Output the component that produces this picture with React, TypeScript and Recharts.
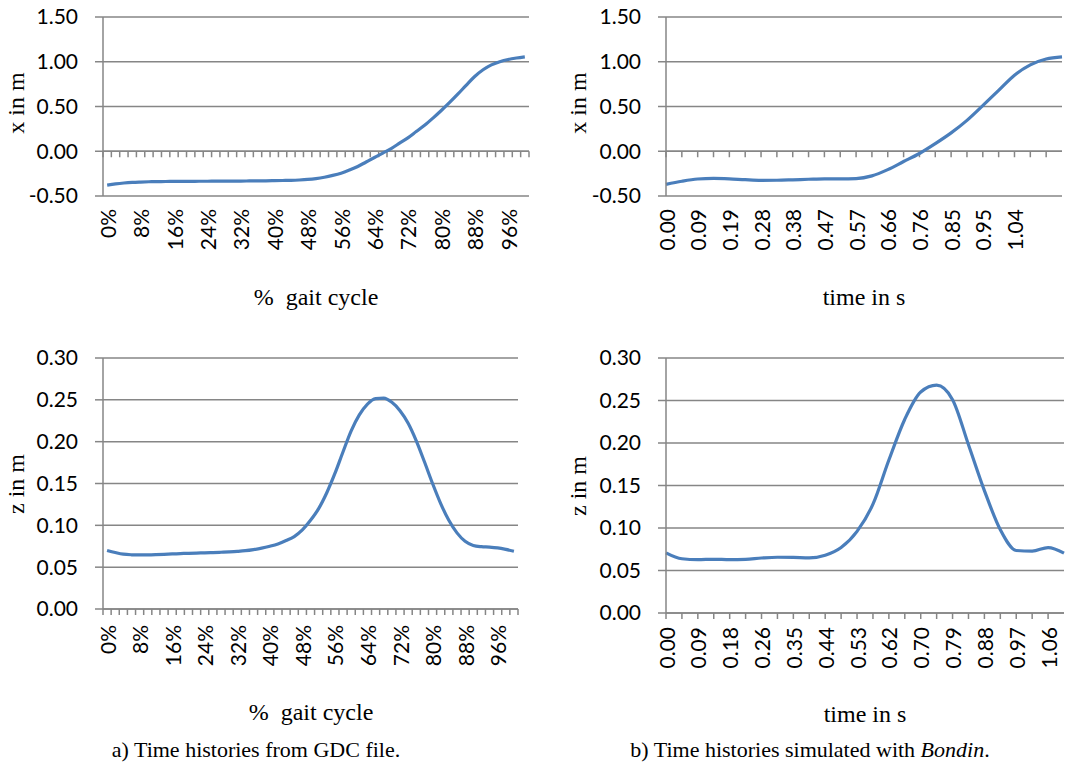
import React from "react";
import {
  LineChart,
  Line,
  XAxis,
  YAxis,
  CartesianGrid,
  ReferenceLine,
} from "recharts";

// % gait cycle, one sample every 2 %
const PCT = [
  0, 2, 4, 6, 8, 10, 12, 14, 16, 18, 20, 22, 24, 26, 28, 30, 32, 34, 36, 38,
  40, 42, 44, 46, 48, 50, 52, 54, 56, 58, 60, 62, 64, 66, 68, 70, 72, 74, 76,
  78, 80, 82, 84, 86, 88, 90, 92, 94, 96, 98, 100,
];
const PCT_TICKS = [0, 8, 16, 24, 32, 40, 48, 56, 64, 72, 80, 88, 96];

// simulated time samples (s)
const TIME_X = [
  "0.00", "0.05", "0.09", "0.14", "0.19", "0.24", "0.28", "0.33", "0.38",
  "0.43", "0.47", "0.52", "0.57", "0.61", "0.66", "0.71", "0.76", "0.80",
  "0.85", "0.90", "0.95", "0.99", "1.04", "1.09", "1.14", "1.18",
];
const TIME_X_TICKS = [
  "0.00", "0.09", "0.19", "0.28", "0.38", "0.47", "0.57", "0.66", "0.76",
  "0.85", "0.95", "1.04",
];
const TIME_Z = [
  "0.00", "0.04", "0.09", "0.13", "0.18", "0.22", "0.26", "0.31", "0.35",
  "0.40", "0.44", "0.48", "0.53", "0.57", "0.62", "0.66", "0.70", "0.75",
  "0.79", "0.84", "0.88", "0.92", "0.97", "1.01", "1.06", "1.10",
];
const TIME_Z_TICKS = [
  "0.00", "0.09", "0.18", "0.26", "0.35", "0.44", "0.53", "0.62", "0.70",
  "0.79", "0.88", "0.97", "1.06",
];

// x in m
const X_GDC = [
  -0.378, -0.365, -0.355, -0.348, -0.344, -0.341, -0.339, -0.338, -0.337,
  -0.336, -0.336, -0.335, -0.335, -0.334, -0.334, -0.333, -0.333, -0.332,
  -0.331, -0.33, -0.329, -0.327, -0.325, -0.321, -0.315, -0.305, -0.29,
  -0.27, -0.245, -0.21, -0.17, -0.12, -0.07, -0.02, 0.03, 0.09, 0.15,
  0.22, 0.29, 0.37, 0.455, 0.545, 0.64, 0.74, 0.835, 0.91, 0.965, 1.0, 1.025,
  1.042, 1.055,
];
const X_BONDIN = [
  -0.37, -0.335, -0.31, -0.303, -0.308, -0.318, -0.325, -0.324, -0.319,
  -0.313, -0.308, -0.308, -0.305, -0.275, -0.205, -0.115, -0.025, 0.085, 0.205,
  0.345, 0.51, 0.68, 0.85, 0.965, 1.03, 1.055,
];

// z in m
const Z_GDC = [
  0.07, 0.0675, 0.0655, 0.0648, 0.0646, 0.0647, 0.065, 0.0654, 0.0658, 0.0662,
  0.0666, 0.0669, 0.0671, 0.0674, 0.0678, 0.0683, 0.0689, 0.0697, 0.071,
  0.0727, 0.075, 0.0778, 0.0818, 0.0866, 0.0945, 0.106, 0.12, 0.139, 0.162,
  0.188, 0.213, 0.232, 0.245, 0.2515, 0.252, 0.247, 0.237, 0.222, 0.201, 0.176,
  0.15, 0.126, 0.106, 0.091, 0.081, 0.076, 0.0745, 0.074, 0.073, 0.0712, 0.069,
];
const Z_BONDIN = [
  0.0708, 0.0638, 0.0628, 0.0632, 0.0628, 0.0632, 0.0647, 0.0656, 0.0654,
  0.0648, 0.068, 0.077, 0.096, 0.128, 0.18, 0.228, 0.26, 0.268, 0.251,
  0.198, 0.144, 0.098, 0.0735, 0.0728, 0.077, 0.0705,
];

const X_TICKS = [-0.5, 0, 0.5, 1, 1.5];
const Z_TICKS = [0, 0.05, 0.1, 0.15, 0.2, 0.25, 0.3];

const GREY = "#868686";
const BLUE = "#4A7EBB";
const SANS = "Lato, 'Open Sans', sans-serif";
const SERIF = "'Liberation Serif', 'Times New Roman', serif";
const TICK_FONT = { fontFamily: SANS, fontSize: 21, fill: "#000" };

// horizontal axis line through y = 0 with a small tick for every category
function categoryAxis(count: number, between: boolean) {
  return (p: any) => {
    const { x1, x2, y1 } = p;
    const n = between ? count : count - 1;
    const step = (x2 - x1) / n;
    const last = between ? n : n - 1;
    const marks = [];
    for (let k = 0; k <= last; k++) {
      const x = x1 + k * step;
      marks.push(<line key={k} x1={x} x2={x} y1={y1} y2={y1 + 6} />);
    }
    return (
      <g stroke={GREY} strokeWidth={1.5}>
        <line x1={x1} x2={x2} y1={y1} y2={y1} />
        {marks}
      </g>
    );
  };
}

function rotatedTick(gap: number, fmt: (v: any) => string) {
  return (p: any) => {
    const { x, y, payload } = p;
    const ty = y + gap;
    return (
      <text
        x={x}
        y={ty}
        transform={`rotate(-90 ${x} ${ty})`}
        textAnchor="end"
        dominantBaseline="central"
        {...TICK_FONT}
      >
        {fmt(payload.value)}
      </text>
    );
  };
}

interface PanelProps {
  left: number;
  top: number;
  width: number;
  height: number;
  yAxisWidth: number;
  marginTop: number;
  marginRight: number;
  xAxisHeight: number;
  cats: (number | string)[];
  values: number[];
  tickLabels: (number | string)[];
  between: boolean;
  yDomain: [number, number];
  yTicks: number[];
  labelGap: number;
  fmt: (v: any) => string;
}

function Panel(props: PanelProps) {
  const {
    left, top, width, height, yAxisWidth, marginTop, marginRight,
    xAxisHeight, cats, values, tickLabels, between, yDomain, yTicks,
    labelGap, fmt,
  } = props;
  const data = cats.map((c, i) => ({ c, v: values[i] }));
  const plotWidth = width - yAxisWidth - marginRight;
  const half = between ? plotWidth / cats.length / 2 : 0;

  return (
    <div style={{ position: "absolute", left, top }}>
      <LineChart
        width={width}
        height={height}
        data={data}
        margin={{ top: marginTop, right: marginRight, bottom: 0, left: 0 }}
      >
        <CartesianGrid vertical={false} stroke={GREY} strokeWidth={1.5} />
        <XAxis
          dataKey="c"
          type="category"
          ticks={tickLabels as any}
          interval={0}
          height={xAxisHeight}
          axisLine={false}
          tickLine={false}
          tickSize={0}
          tickMargin={0}
          padding={{ left: half, right: half }}
          tick={rotatedTick(labelGap, fmt)}
        />
        <YAxis
          type="number"
          domain={yDomain}
          ticks={yTicks}
          interval={0}
          width={yAxisWidth}
          tickFormatter={(v: number) => v.toFixed(2)}
          axisLine={{ stroke: GREY, strokeWidth: 1.5 }}
          tickLine={{ stroke: GREY, strokeWidth: 1.5 }}
          tickSize={8}
          tickMargin={17}
          tick={TICK_FONT}
        />
        <ReferenceLine y={0} shape={categoryAxis(cats.length, between)} />
        <Line
          type="monotone"
          dataKey="v"
          stroke={BLUE}
          strokeWidth={3.2}
          dot={false}
          activeDot={false}
          isAnimationActive={false}
        />
      </LineChart>
    </div>
  );
}

function Title({ x, y, text, rotate, size = 24 }: { x: number; y: number; text: React.ReactNode; rotate?: boolean; size?: number }) {
  return (
    <div
      style={{
        position: "absolute",
        left: x,
        top: y,
        transform: `translate(-50%, -50%)${rotate ? " rotate(-90deg)" : ""}`,
        fontFamily: SERIF,
        fontSize: size,
        whiteSpace: "pre",
        lineHeight: 1,
        color: "#000",
      }}
    >
      {text}
    </div>
  );
}

const pctFmt = (v: any) => `${v}%`;
const strFmt = (v: any) => String(v);

export default function App() {
  return (
    <div
      style={{
        position: "absolute",
        left: 0,
        top: 0,
        width: 1073,
        height: 769,
        background: "#fff",
        overflow: "hidden",
      }}
    >
      <Panel
        left={0} top={0} width={545} height={320}
        yAxisWidth={103} marginTop={17} marginRight={16} xAxisHeight={124}
        cats={PCT} values={X_GDC} tickLabels={PCT_TICKS} between
        yDomain={[-0.5, 1.5]} yTicks={X_TICKS} labelGap={13} fmt={pctFmt}
      />
      <Panel
        left={545} top={0} width={528} height={320}
        yAxisWidth={121} marginTop={17} marginRight={11} xAxisHeight={124}
        cats={TIME_X} values={X_BONDIN} tickLabels={TIME_X_TICKS} between={false}
        yDomain={[-0.5, 1.5]} yTicks={X_TICKS} labelGap={13} fmt={strFmt}
      />
      <Panel
        left={0} top={330} width={545} height={400}
        yAxisWidth={103} marginTop={28} marginRight={27} xAxisHeight={121}
        cats={PCT} values={Z_GDC} tickLabels={PCT_TICKS} between
        yDomain={[0, 0.3]} yTicks={Z_TICKS} labelGap={16} fmt={pctFmt}
      />
      <Panel
        left={545} top={330} width={528} height={400}
        yAxisWidth={121} marginTop={28} marginRight={9} xAxisHeight={117}
        cats={TIME_Z} values={Z_BONDIN} tickLabels={TIME_Z_TICKS} between={false}
        yDomain={[0, 0.3]} yTicks={Z_TICKS} labelGap={14} fmt={strFmt}
      />

      <Title x={16} y={103} text="x in m" rotate />
      <Title x={578} y={103} text="x in m" rotate />
      <Title x={16} y={484} text="z in m" rotate />
      <Title x={578} y={486} text="z in m" rotate />

      <Title x={316} y={297} text={"%  gait cycle"} />
      <Title x={864} y={297} text="time in s" />
      <Title x={311} y={712} text={"%  gait cycle"} />
      <Title x={865} y={714} text="time in s" />

      <Title x={256} y={750} size={22} text="a) Time histories from GDC file." />
      <Title
        x={810}
        y={750}
        size={22}
        text={<>b) Time histories simulated with <i>Bondin</i>.</>}
      />
    </div>
  );
}
